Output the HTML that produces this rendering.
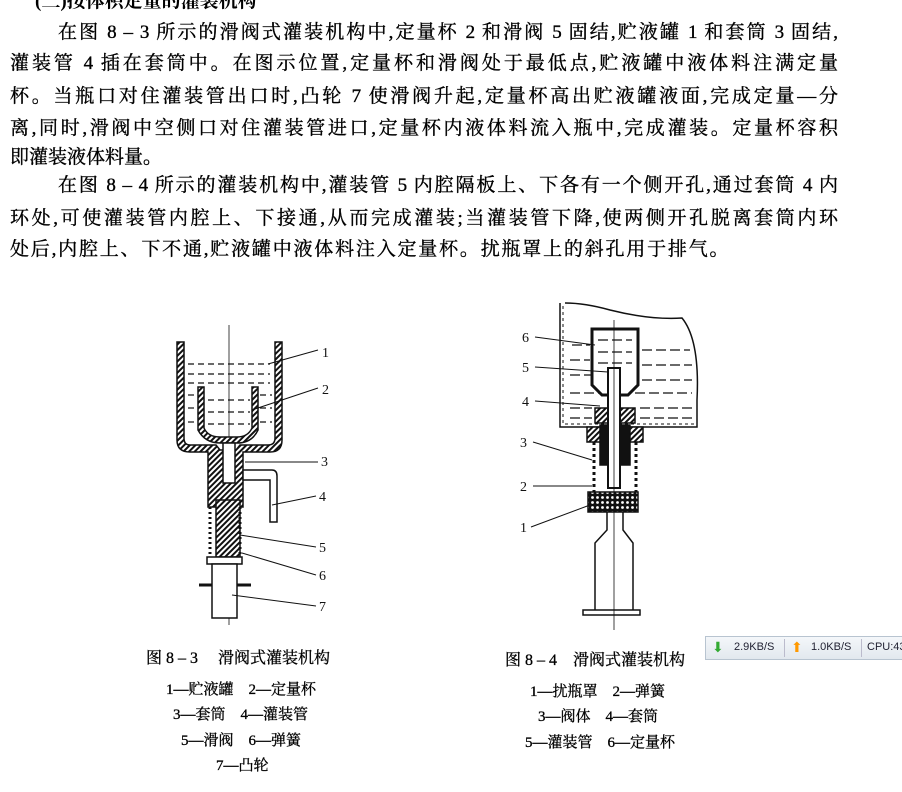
<!DOCTYPE html>
<html><head><meta charset="utf-8"><style>
body{margin:0;width:902px;height:792px;background:#fff;position:relative;overflow:hidden;font-family:"Liberation Serif","Noto Serif CJK SC",serif;color:#000}
.l{position:absolute;left:10px;width:828px;font-size:19px;line-height:22px;height:22px;text-align:justify;text-align-last:justify;white-space:nowrap;-webkit-text-stroke:0.35px #000}
.c{position:absolute;font-size:15px;line-height:18px;white-space:nowrap;-webkit-text-stroke:0.3px #000}
.w{position:absolute;left:705px;top:636px;width:197px;height:22px;background:linear-gradient(#f4f7fa,#e2e8ee);border:1px solid #b8c4d0;font:11px "Liberation Sans",sans-serif;color:#223}
</style></head><body>
<div style="position:absolute;left:35px;top:-14px;font-size:19px;font-weight:bold">(三)按体积定量的灌装机构</div>
<div class="l" style="left:58px;width:780px;top:22px">在图 8 – 3 所示的滑阀式灌装机构中,定量杯 2 和滑阀 5 固结,贮液罐 1 和套筒 3 固结,</div>
<div class="l" style="top:53px">灌装管 4 插在套筒中。在图示位置,定量杯和滑阀处于最低点,贮液罐中液体料注满定量</div>
<div class="l" style="top:86px">杯。当瓶口对住灌装管出口时,凸轮 7 使滑阀升起,定量杯高出贮液罐液面,完成定量—分</div>
<div class="l" style="top:118px">离,同时,滑阀中空侧口对住灌装管进口,定量杯内液体料流入瓶中,完成灌装。定量杯容积</div>
<div class="l" style="top:147px;width:auto;text-align:left;text-align-last:auto">即灌装液体料量。</div>
<div class="l" style="left:58px;width:780px;top:175px">在图 8 – 4 所示的灌装机构中,灌装管 5 内腔隔板上、下各有一个侧开孔,通过套筒 4 内</div>
<div class="l" style="top:208px">环处,可使灌装管内腔上、下接通,从而完成灌装;当灌装管下降,使两侧开孔脱离套筒内环</div>
<div class="l" style="top:239px;width:auto;text-align:left;text-align-last:auto;letter-spacing:1.8px">处后,内腔上、下不通,贮液罐中液体料注入定量杯。扰瓶罩上的斜孔用于排气。</div>

<svg width="902" height="792" style="position:absolute;left:0;top:0" xmlns="http://www.w3.org/2000/svg">
<defs>
<pattern id="h" width="4" height="4" patternUnits="userSpaceOnUse" patternTransform="rotate(45)"><rect width="4" height="4" fill="#fff"/><rect width="2" height="4" fill="#111"/></pattern>
<pattern id="x" width="5" height="5" patternUnits="userSpaceOnUse"><rect width="5" height="5" fill="#111"/><circle cx="2.5" cy="2.5" r="1.4" fill="#fff"/></pattern>
</defs>
<g stroke="#111" fill="none" stroke-width="1.5">
<!-- fig 8-3 -->
<line x1="229" y1="325" x2="229" y2="625" stroke-width="0.8"/>
<path d="M177 342 V440 Q177 452 190 452 H208 V507 H243 V452 H270 Q282 452 282 440 V342 H275 V438 Q275 445 268 445 H240 L236 450 H220 L216 445 H190 Q184 445 184 438 V342 Z" fill="url(#h)"/>
<path d="M198 387 V430 Q205 443 220 443 H237 Q252 443 258 430 V387 H252 V428 Q248 437 237 437 H220 Q208 437 204 428 V387 Z" fill="url(#h)"/>
<rect x="223" y="443" width="12" height="40" fill="#fff"/>
<g stroke-dasharray="6 4" stroke-width="1.2">
<line x1="188" y1="364" x2="270" y2="364"/><line x1="188" y1="374" x2="270" y2="374"/><line x1="188" y1="383" x2="270" y2="383"/>
<line x1="188" y1="395" x2="197" y2="395"/><line x1="260" y1="395" x2="272" y2="395"/><line x1="188" y1="408" x2="197" y2="408"/><line x1="260" y1="408" x2="272" y2="408"/><line x1="188" y1="422" x2="197" y2="422"/><line x1="260" y1="422" x2="272" y2="422"/>
<line x1="208" y1="400" x2="250" y2="400"/><line x1="208" y1="412" x2="250" y2="412"/><line x1="208" y1="424" x2="250" y2="424"/>
</g>
<path d="M243 470 H272 Q277 470 277 476 V522 H270 V480 H243 Z" fill="#fff"/>
<rect x="216" y="500" width="24" height="57" fill="url(#h)"/>
<path d="M210 507 V557 M240 507 V557" stroke-dasharray="2 3" stroke-width="3"/>
<rect x="207" y="557" width="35" height="7" fill="#fff"/>
<rect x="212" y="564" width="25" height="54" fill="#fff"/>
<path d="M199 585 H212 M237 585 H251" stroke-width="3"/>
<path d="M268 364 L318 350 M252 410 L318 388 M245 462 L318 462 M272 505 L316 496 M240 535 L316 547 M242 553 L316 575 M232 595 L316 606" stroke-width="1"/>
<!-- fig 8-4 -->
<path d="M560 303 V427 H697 V400 Q700 340 682 318 Q650 320 610 310 Q585 303 565 303" fill="#fff"/>
<path d="M563 306 V424 H697" stroke-dasharray="3 3" stroke-width="1"/>
<g stroke-dasharray="10 4" stroke-width="1.3">
<line x1="572" y1="345" x2="590" y2="345"/><line x1="642" y1="350" x2="690" y2="350"/><line x1="570" y1="360" x2="590" y2="360"/><line x1="642" y1="365" x2="692" y2="365"/><line x1="570" y1="375" x2="592" y2="375"/><line x1="642" y1="380" x2="692" y2="380"/><line x1="570" y1="393" x2="600" y2="393"/><line x1="635" y1="393" x2="692" y2="393"/><line x1="570" y1="408" x2="592" y2="408"/><line x1="640" y1="408" x2="692" y2="408"/><line x1="570" y1="418" x2="592" y2="418"/><line x1="640" y1="418" x2="692" y2="418"/>
<line x1="598" y1="340" x2="632" y2="340"/><line x1="598" y1="352" x2="632" y2="352"/><line x1="598" y1="363" x2="632" y2="363"/>
</g>
<path d="M592 329 H638 V385 L628 395 H602 L592 385 Z" stroke-width="3"/>
<rect x="595" y="408" width="40" height="15" fill="url(#h)"/>
<rect x="587" y="427" width="56" height="15" fill="url(#h)"/>
<rect x="600" y="425" width="30" height="40" fill="#111"/>
<path d="M594 442 V492 M636 442 V492" stroke-dasharray="3 3" stroke-width="3"/>
<rect x="608" y="368" width="12" height="120" fill="#fff" stroke-width="2"/>
<rect x="588" y="492" width="50" height="20" fill="url(#x)"/>
<path d="M607 512 V530 L595 543 V610 M623 512 V530 L633 543 V610" />
<rect x="583" y="610" width="57" height="5" fill="#fff"/>
<line x1="614" y1="320" x2="614" y2="630" stroke-width="0.8"/>
<path d="M535 337 L595 345 M535 367 L608 372 M535 401 L600 406 M533 442 L592 460 M533 486 L592 486 M531 527 L590 505" stroke-width="1"/>
</g>
<g font-family="Liberation Serif,serif" font-size="14" fill="#111">
<text x="322" y="357">1</text><text x="322" y="394">2</text><text x="321" y="466">3</text><text x="319" y="501">4</text><text x="319" y="552">5</text><text x="319" y="580">6</text><text x="319" y="611">7</text>
<text x="522" y="342">6</text><text x="522" y="372">5</text><text x="522" y="406">4</text><text x="520" y="447">3</text><text x="520" y="491">2</text><text x="520" y="532">1</text>
</g>
</svg>

<div class="c" style="left:146px;top:650px;font-size:16px">图 8 – 3　 滑阀式灌装机构</div>
<div class="c" style="left:166px;top:681px">1—贮液罐　2—定量杯</div>
<div class="c" style="left:173px;top:706px">3—套筒　4—灌装管</div>
<div class="c" style="left:181px;top:732px">5—滑阀　6—弹簧</div>
<div class="c" style="left:216px;top:757px">7—凸轮</div>
<div class="c" style="left:505px;top:652px;font-size:16px">图 8 – 4　滑阀式灌装机构</div>
<div class="c" style="left:530px;top:683px">1—扰瓶罩　2—弹簧</div>
<div class="c" style="left:538px;top:708px">3—阀体　4—套筒</div>
<div class="c" style="left:525px;top:734px">5—灌装管　6—定量杯</div>

<div class="w">
<span style="position:absolute;left:6px;top:2px;color:#3a3;font-size:14px">⬇</span>
<span style="position:absolute;left:28px;top:4px">2.9KB/S</span>
<span style="position:absolute;left:78px;top:2px;width:1px;height:18px;background:#bbc"></span>
<span style="position:absolute;left:85px;top:2px;color:#f90;font-size:14px">⬆</span>
<span style="position:absolute;left:105px;top:4px">1.0KB/S</span>
<span style="position:absolute;left:155px;top:2px;width:1px;height:18px;background:#bbc"></span>
<span style="position:absolute;left:161px;top:4px">CPU:43%</span>
</div>
</body></html>
